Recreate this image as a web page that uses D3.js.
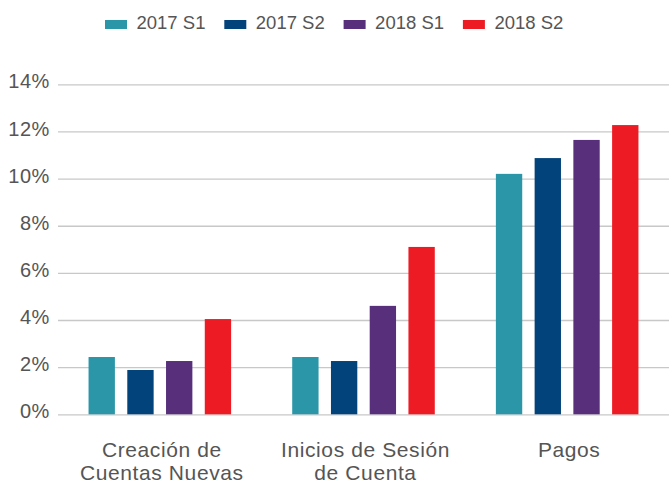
<!DOCTYPE html>
<meta charset="utf-8">
<style>
body { margin: 0; background: #fff; }
svg { font-family: "Liberation Sans", Arial, sans-serif; }
.axis .domain { display: none; }
.axis line { stroke: #c8c8c8; stroke-width: 1.3px; }
.axis text { fill: #555; font-size: 20px; letter-spacing: 0.6px; }
</style>
<body>
<svg width="669" height="484"></svg>
<script src="https://cdn.jsdelivr.net/npm/d3@7"></script>
<script>
// grouped bars, share by semester

var categories = ["Creación de Cuentas Nuevas", "Inicios de Sesión de Cuenta", "Pagos"];
var catLines = [["Creación de", "Cuentas Nuevas"], ["Inicios de Sesión", "de Cuenta"], ["Pagos"]];
var seriesNames = ["2017 S1", "2017 S2", "2018 S1", "2018 S2"];
var colors = ["#2a96a8", "#02437c", "#572f7b", "#ed1c24"];
var s2017S1 = [2.43, 2.43, 10.2];
var s2017S2 = [1.88, 2.26, 10.87];
var s2018S1 = [2.26, 4.6, 11.64];
var s2018S2 = [4.04, 7.1, 12.27];
var yTicks = [0, 2, 4, 6, 8, 10, 12, 14];

var values = [s2017S1, s2017S2, s2018S1, s2018S2];

var svg = d3.select("svg"),
    margin = {top: 84.3, right: 0, bottom: 69.7, left: 58},
    width = +svg.attr("width") - margin.left - margin.right,
    height = +svg.attr("height") - margin.top - margin.bottom,
    g = svg.append("g").attr("transform", "translate(" + margin.left + "," + margin.top + ")");

var x0 = d3.scaleBand()
    .domain(categories)
    .range([0, width])
    .paddingInner(0.3)
    .paddingOuter(0.15);

var x1 = d3.scaleBand()
    .domain(seriesNames)
    .range([0, x0.bandwidth()])
    .paddingInner(0.32);

var y = d3.scaleLinear()
    .domain([0, 14])
    .range([height, 0]);

var z = d3.scaleOrdinal().domain(seriesNames).range(colors);

// gridlines + labels
var yAxis = g.append("g")
    .attr("class", "axis")
    .call(d3.axisLeft(y).tickValues(yTicks)
      .tickSizeInner(-width).tickSizeOuter(0).tickPadding(8)
      .tickFormat(function(d) { return d + "%"; }));
yAxis.selectAll("text").attr("dy", "0.18em");

// bars
var rows = [];
categories.forEach(function(c, i) {
  seriesNames.forEach(function(s, j) {
    rows.push({cat: c, key: s, value: values[j][i]});
  });
});

g.append("g")
  .selectAll("rect")
  .data(rows)
  .enter().append("rect")
    .attr("x", function(d) { return x0(d.cat) + x1(d.key); })
    .attr("y", function(d) { return y(d.value); })
    .attr("width", x1.bandwidth())
    .attr("height", function(d) { return y(0) - y(d.value); })
    .attr("fill", function(d) { return z(d.key); });

// category labels
var labels = g.append("g")
    .attr("fill", "#555")
    .attr("font-size", 21)
    .attr("letter-spacing", "0.6px")
    .attr("text-anchor", "middle")
  .selectAll("text")
  .data(categories)
  .enter().append("text")
    .attr("transform", function(d) { return "translate(" + (x0(d) + x0.bandwidth() / 2 + 2) + "," + (height + 43) + ")"; });

labels.selectAll("tspan")
  .data(function(d, i) { return catLines[i]; })
  .enter().append("tspan")
    .attr("x", 0)
    .attr("y", function(d, i) { return i * 22.5; })
    .text(function(d) { return d; });

// legend
var legend = svg.append("g")
    .attr("font-size", 18.5)
    .attr("fill", "#555")
  .selectAll("g")
  .data(seriesNames)
  .enter().append("g")
    .attr("transform", function(d, i) { return "translate(" + (105 + i * 119.3) + ",20)"; });

legend.append("rect")
    .attr("width", 22)
    .attr("height", 9)
    .attr("fill", z);

legend.append("text")
    .attr("x", 31.5)
    .attr("y", 9.3)
    .text(function(d) { return d; });
</script>
</body>
